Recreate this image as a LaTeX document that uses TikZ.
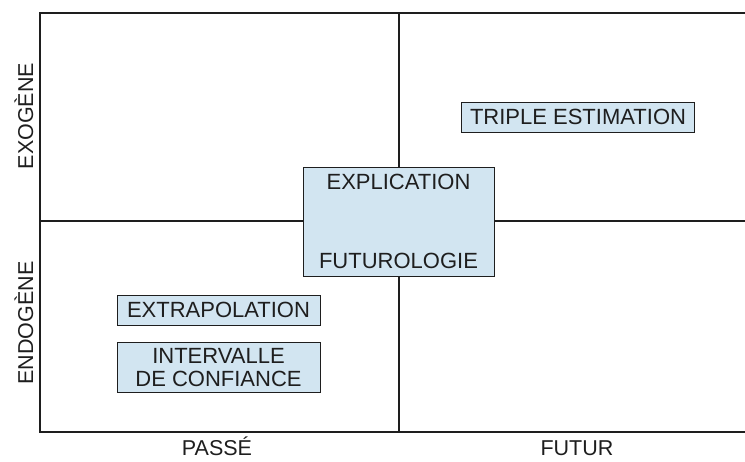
\documentclass[tikz,border=0pt]{standalone}
\usepackage{fontspec}
\setmainfont{Liberation Sans}
\usetikzlibrary{positioning}
\definecolor{boxblue}{HTML}{D2E5F1}
\definecolor{ink}{HTML}{1E1E1E}

\begin{document}
\begin{tikzpicture}[x=1pt, y=-1pt]
  % Define styles
  \tikzstyle{box} = [rectangle, draw=ink, fill=boxblue, line width=0.9pt, inner sep=0pt, align=center, text=ink, font=\fontsize{22}{23}\selectfont]
  \tikzstyle{axis} = [text=ink, inner sep=1pt, font=\fontsize{21.5}{23}\selectfont]
  \tikzstyle{frame} = [draw=ink, line width=1.8pt]

  \useasboundingbox (0,0) rectangle (745,461);

  % Frame and quadrants
  \coordinate (topleft) at (40,13);
  \coordinate (botleft) at (40,432);
  \draw [frame] (745,13) -- (topleft) -- (botleft) -- (745,432);
  \draw [frame] (40,221) -- (745,221);
  \draw [frame] (399,13) -- (399,432);

  % Place boxes
  \node [box, minimum width=191pt, minimum height=109pt] (explication) at (398.5,221.5) {EXPLICATION\\[56pt]FUTUROLOGIE};
  \node [box, minimum width=233pt, minimum height=30pt] (triple) at (578,117) {TRIPLE ESTIMATION};
  \node [box, minimum width=203pt, minimum height=30pt] (extrapolation) at (218.5,310) {EXTRAPOLATION};
  \node [box, minimum width=203pt, minimum height=50pt, below=17pt of extrapolation] (intervalle) {INTERVALLE\\DE CONFIANCE};

  % Axis labels
  \node [axis, rotate=90, anchor=base] (exogene) at (33,116) {EXOGÈNE};
  \node [axis, rotate=90, anchor=base] (endogene) at (33,323) {ENDOGÈNE};
  \node [axis, anchor=base] (passe) at (217,455) {PASSÉ};
  \node [axis, anchor=base] (futur) at (577,455) {FUTUR};
\end{tikzpicture}
\end{document}
